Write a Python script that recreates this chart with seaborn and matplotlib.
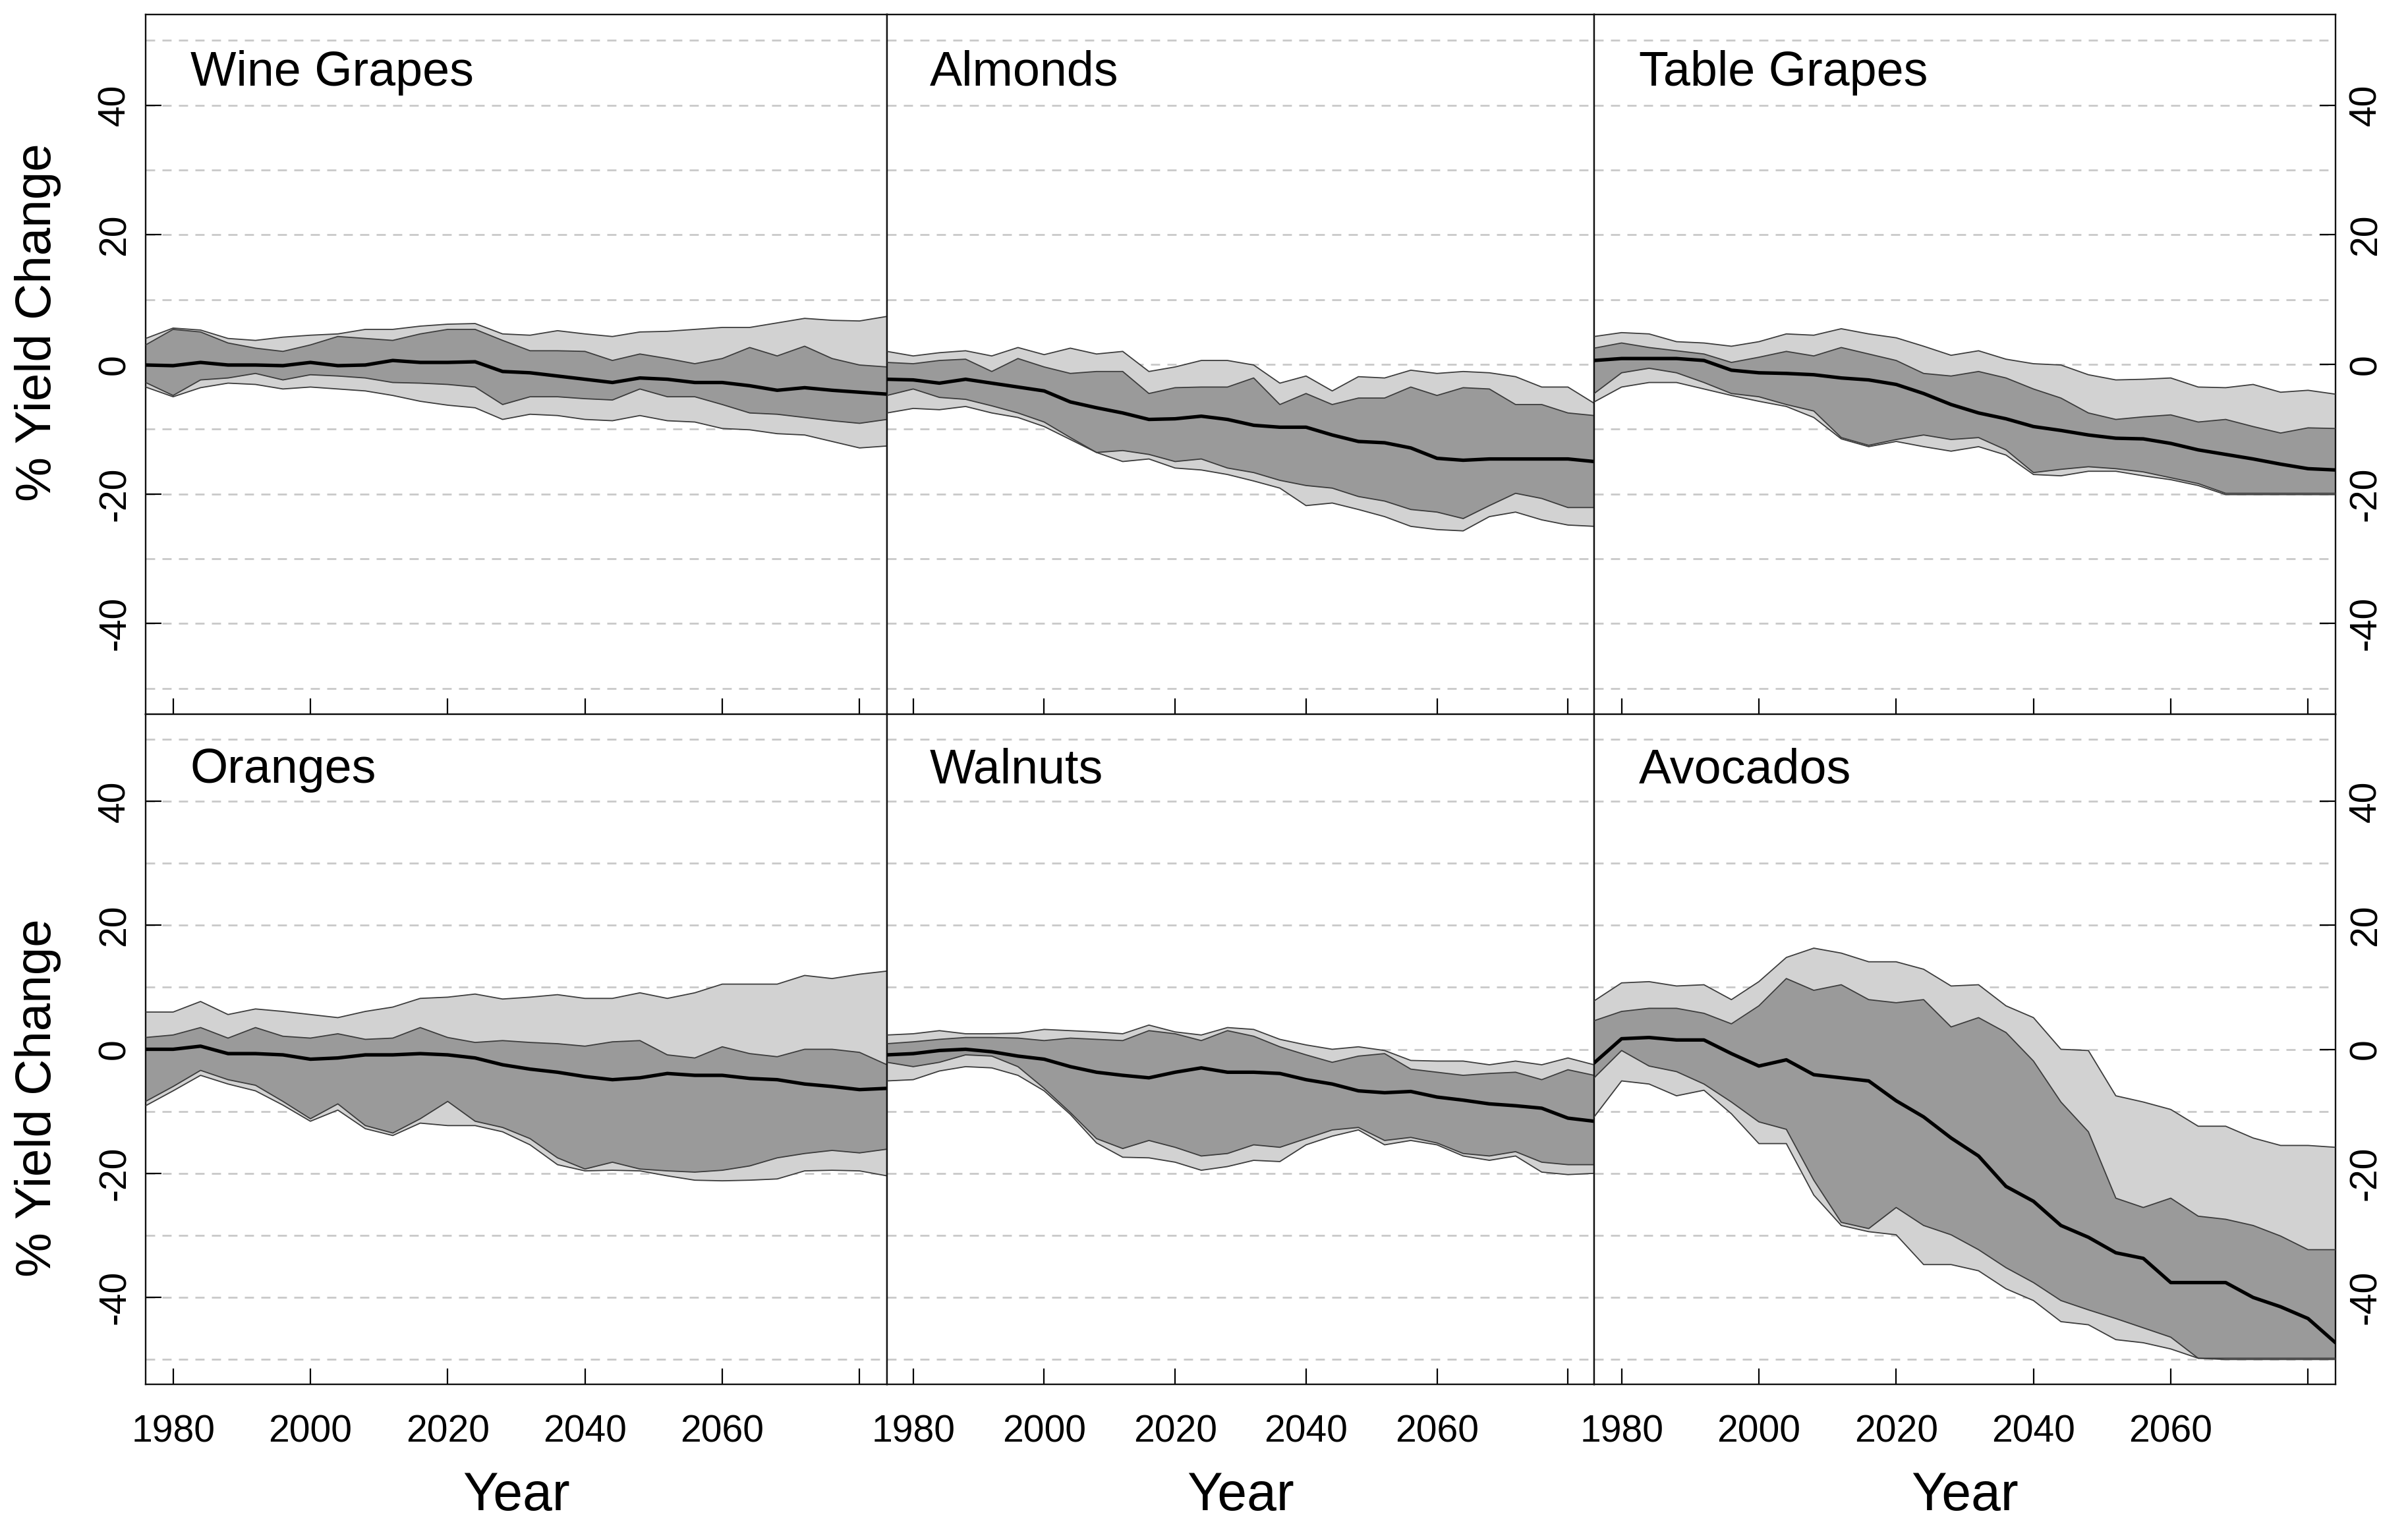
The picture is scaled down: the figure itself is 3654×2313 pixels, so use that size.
import pandas as pd
import seaborn as sns
import matplotlib.pyplot as plt

# Yield change projections: median, inner and outer ranges per crop
years = list(range(1976, 2085, 4))

wine_out_hi = [4.0, 5.6, 5.3, 4.0, 3.7, 4.2, 4.5, 4.7, 5.4, 5.4, 5.9, 6.2, 6.3, 4.7, 4.5, 5.2, 4.7, 4.3, 5.0, 5.1, 5.4, 5.7, 5.7, 6.4, 7.1, 6.8, 6.7, 7.4]
wine_in_hi = [3.0, 5.4, 5.0, 3.3, 2.5, 2.0, 3.0, 4.3, 4.0, 3.7, 4.7, 5.4, 5.4, 3.7, 2.1, 2.1, 2.0, 0.6, 1.6, 0.9, 0.1, 0.9, 2.6, 1.3, 2.8, 0.9, -0.1, -0.4]
wine_med = [-0.1, -0.2, 0.3, -0.1, -0.1, -0.2, 0.3, -0.2, -0.1, 0.6, 0.3, 0.3, 0.4, -1.1, -1.3, -1.8, -2.3, -2.8, -2.1, -2.3, -2.8, -2.8, -3.3, -4.0, -3.6, -4.0, -4.3, -4.6]
wine_in_lo = [-2.8, -4.8, -2.4, -2.1, -1.4, -2.4, -1.6, -1.8, -2.1, -2.8, -2.9, -3.1, -3.5, -6.2, -5.0, -5.0, -5.3, -5.5, -3.8, -5.0, -5.0, -6.2, -7.5, -7.7, -8.2, -8.7, -9.1, -8.5]
wine_out_lo = [-3.5, -5.0, -3.6, -2.9, -3.1, -3.8, -3.5, -3.8, -4.1, -4.8, -5.7, -6.3, -6.7, -8.5, -7.7, -7.9, -8.5, -8.7, -7.9, -8.7, -8.9, -9.9, -10.1, -10.7, -10.9, -11.9, -12.9, -12.6]

almond_out_hi = [2.0, 1.3, 1.8, 2.1, 1.3, 2.6, 1.5, 2.5, 1.6, 2.0, -1.1, -0.4, 0.6, 0.6, -0.1, -2.9, -1.8, -4.1, -1.9, -2.1, -0.9, -1.4, -1.1, -1.3, -1.9, -3.5, -3.5, -6.0]
almond_in_hi = [0.3, 0.1, 0.6, 0.8, -1.1, 0.9, -0.4, -1.4, -1.1, -1.1, -4.5, -3.6, -3.5, -3.5, -2.1, -6.2, -4.5, -6.2, -5.2, -5.2, -3.5, -4.8, -3.6, -3.8, -6.2, -6.2, -7.5, -7.9]
almond_med = [-2.3, -2.4, -2.9, -2.3, -2.9, -3.5, -4.1, -5.8, -6.7, -7.5, -8.5, -8.4, -8.0, -8.5, -9.4, -9.7, -9.7, -10.9, -11.9, -12.1, -12.9, -14.5, -14.8, -14.6, -14.6, -14.6, -14.6, -15.0]
almond_in_lo = [-4.8, -3.8, -5.1, -5.4, -6.4, -7.5, -8.9, -11.3, -13.6, -13.3, -13.9, -15.0, -14.6, -16.0, -16.7, -17.9, -18.7, -19.1, -20.4, -21.1, -22.4, -22.8, -23.8, -21.8, -19.9, -20.7, -22.1, -22.1]
almond_out_lo = [-7.5, -6.8, -7.0, -6.5, -7.5, -8.2, -9.6, -11.6, -13.6, -15.0, -14.6, -16.0, -16.3, -17.0, -18.0, -19.1, -21.8, -21.4, -22.4, -23.5, -25.0, -25.5, -25.7, -23.5, -22.8, -24.0, -24.8, -25.0]

table_out_hi = [4.3, 4.9, 4.7, 3.5, 3.3, 2.8, 3.5, 4.7, 4.5, 5.5, 4.7, 4.1, 2.8, 1.4, 2.1, 0.8, 0.1, -0.1, -1.6, -2.4, -2.3, -2.1, -3.5, -3.6, -3.1, -4.3, -4.0, -4.6]
table_in_hi = [2.5, 3.3, 2.6, 2.1, 1.6, 0.3, 1.1, 2.0, 1.3, 2.6, 1.6, 0.6, -1.4, -1.8, -1.1, -2.1, -3.8, -5.2, -7.5, -8.5, -8.1, -7.8, -8.9, -8.5, -9.6, -10.6, -9.8, -9.9]
table_med = [0.6, 0.9, 0.9, 0.9, 0.6, -0.9, -1.3, -1.4, -1.6, -2.1, -2.4, -3.1, -4.5, -6.2, -7.5, -8.4, -9.6, -10.2, -10.9, -11.4, -11.5, -12.2, -13.2, -13.9, -14.6, -15.4, -16.1, -16.3]
table_in_lo = [-4.5, -1.3, -0.6, -1.3, -2.8, -4.5, -5.0, -6.2, -7.2, -11.3, -12.5, -11.6, -10.9, -11.6, -11.3, -13.2, -16.7, -16.2, -15.8, -16.1, -16.6, -17.5, -18.4, -19.9, -19.9, -19.9, -19.9, -19.9]
table_out_lo = [-5.8, -3.5, -2.8, -2.8, -3.8, -4.8, -5.7, -6.5, -8.2, -11.5, -12.7, -11.9, -12.7, -13.4, -12.7, -14.0, -17.0, -17.2, -16.5, -16.5, -17.2, -17.8, -18.7, -20.1, -20.1, -20.1, -20.1, -20.1]

orange_out_hi = [6.0, 6.0, 7.7, 5.6, 6.5, 6.1, 5.6, 5.1, 6.1, 6.8, 8.2, 8.4, 8.9, 8.1, 8.4, 8.8, 8.2, 8.2, 9.1, 8.2, 9.1, 10.5, 10.5, 10.5, 11.9, 11.4, 12.1, 12.6]
orange_in_hi = [1.9, 2.3, 3.5, 1.8, 3.5, 2.1, 1.8, 2.5, 1.6, 1.8, 3.5, 1.9, 1.1, 1.4, 1.1, 0.9, 0.5, 1.2, 1.4, -0.9, -1.4, 0.4, -0.7, -1.2, 0.0, 0.0, -0.5, -2.5]
orange_med = [0.0, 0.0, 0.5, -0.7, -0.7, -0.9, -1.6, -1.4, -0.9, -0.9, -0.7, -0.9, -1.4, -2.5, -3.2, -3.7, -4.4, -4.9, -4.6, -3.9, -4.2, -4.2, -4.7, -4.9, -5.6, -6.0, -6.5, -6.3]
orange_in_lo = [-8.4, -6.0, -3.4, -4.9, -5.8, -8.4, -11.2, -8.8, -12.3, -13.5, -11.2, -8.4, -11.6, -12.6, -14.4, -17.5, -19.3, -18.2, -19.3, -19.6, -19.8, -19.5, -18.8, -17.5, -16.8, -16.3, -16.7, -16.1]
orange_out_lo = [-9.1, -6.7, -4.2, -5.6, -6.7, -9.0, -11.6, -9.8, -12.8, -13.9, -11.9, -12.3, -12.3, -13.3, -15.4, -18.6, -19.6, -19.5, -19.6, -20.4, -21.1, -21.2, -21.1, -20.9, -19.6, -19.5, -19.6, -20.4]

walnut_out_hi = [2.3, 2.5, 3.0, 2.5, 2.5, 2.6, 3.2, 3.0, 2.8, 2.5, 3.9, 2.8, 2.3, 3.5, 3.2, 1.6, 0.7, 0.0, 0.4, -0.2, -1.8, -1.9, -1.9, -2.5, -1.9, -2.5, -1.4, -2.5]
walnut_in_hi = [0.9, 1.2, 1.6, 1.9, 1.9, 1.8, 1.4, 1.8, 1.6, 1.4, 3.0, 2.5, 1.4, 3.0, 2.1, 0.4, -0.9, -2.1, -1.1, -0.7, -3.2, -3.7, -4.2, -3.9, -3.7, -4.9, -3.3, -4.2]
walnut_med = [-0.9, -0.7, -0.2, 0.0, -0.4, -1.1, -1.6, -2.8, -3.7, -4.2, -4.6, -3.7, -3.0, -3.7, -3.7, -3.9, -4.9, -5.6, -6.7, -7.0, -6.8, -7.7, -8.2, -8.8, -9.1, -9.5, -11.1, -11.6]
walnut_in_lo = [-2.1, -2.8, -2.1, -0.9, -1.1, -2.8, -6.3, -10.2, -14.4, -16.0, -14.7, -15.8, -17.2, -16.8, -15.4, -15.8, -14.4, -13.0, -12.6, -14.7, -14.2, -15.1, -16.8, -17.2, -16.5, -18.2, -18.6, -18.6]
walnut_out_lo = [-5.1, -4.9, -3.5, -2.8, -3.0, -4.2, -6.7, -10.5, -15.1, -17.4, -17.5, -18.2, -19.5, -18.9, -17.9, -18.1, -15.4, -14.0, -13.0, -15.4, -14.7, -15.4, -17.2, -17.9, -17.2, -19.8, -20.2, -20.0]

avocado_out_hi = [7.8, 10.7, 10.9, 10.2, 10.4, 8.0, 10.9, 14.8, 16.3, 15.5, 14.1, 14.1, 12.9, 10.2, 10.4, 7.0, 5.1, 0.0, -0.2, -7.5, -8.5, -9.7, -12.4, -12.4, -14.3, -15.5, -15.5, -15.8]
avocado_in_hi = [4.6, 6.1, 6.6, 6.6, 5.8, 4.1, 7.0, 11.4, 9.5, 10.4, 8.0, 7.5, 8.0, 3.6, 5.1, 2.7, -1.9, -8.5, -13.3, -24.0, -25.5, -24.0, -26.9, -27.4, -28.4, -30.1, -32.3, -32.3]
avocado_med = [-2.2, 1.7, 1.9, 1.5, 1.5, -0.7, -2.7, -1.7, -4.1, -4.6, -5.1, -8.3, -10.9, -14.3, -17.2, -22.1, -24.5, -28.4, -30.3, -32.8, -33.7, -37.6, -37.6, -37.6, -40.0, -41.5, -43.4, -47.3]
avocado_in_lo = [-4.6, -0.2, -2.7, -3.6, -5.6, -8.5, -11.7, -12.9, -21.1, -27.9, -28.9, -25.5, -28.4, -29.9, -32.3, -35.2, -37.6, -40.5, -42.0, -43.4, -44.9, -46.4, -49.8, -49.8, -49.8, -49.8, -49.8, -49.8]
avocado_out_lo = [-10.9, -5.1, -5.6, -7.5, -6.6, -10.4, -15.2, -15.2, -23.5, -28.4, -29.4, -29.9, -34.7, -34.7, -35.7, -38.6, -40.5, -43.9, -44.4, -46.8, -47.3, -48.3, -49.8, -50.0, -50.0, -50.0, -50.0, -50.0]

crops = ["Wine Grapes", "Almonds", "Table Grapes", "Oranges", "Walnuts", "Avocados"]
series = {
    "Wine Grapes": (wine_out_lo, wine_in_lo, wine_med, wine_in_hi, wine_out_hi),
    "Almonds": (almond_out_lo, almond_in_lo, almond_med, almond_in_hi, almond_out_hi),
    "Table Grapes": (table_out_lo, table_in_lo, table_med, table_in_hi, table_out_hi),
    "Oranges": (orange_out_lo, orange_in_lo, orange_med, orange_in_hi, orange_out_hi),
    "Walnuts": (walnut_out_lo, walnut_in_lo, walnut_med, walnut_in_hi, walnut_out_hi),
    "Avocados": (avocado_out_lo, avocado_in_lo, avocado_med, avocado_in_hi, avocado_out_hi),
}
stats = ["out_lo", "in_lo", "med", "in_hi", "out_hi"]

rows = []
for crop in crops:
    for stat, vals in zip(stats, series[crop]):
        for yr, v in zip(years, vals):
            rows.append((crop, stat, yr, v))
df = pd.DataFrame(rows, columns=["crop", "stat", "year", "value"])

x_ticks = [1980, 2000, 2020, 2040, 2060, 2080]
x_labels = ["1980", "2000", "2020", "2040", "2060", ""]
y_ticks = [-40, -20, 0, 20, 40]
y_labels = ["-40", "-20", "0", "20", "40"]
grid_levels = [-50, -40, -30, -20, -10, 0, 10, 20, 30, 40, 50]

sns.set_theme(style="white")
plt.rcParams["font.family"] = ["Liberation Sans", "DejaVu Sans"]
plt.rcParams["text.color"] = "black"
plt.rcParams["xtick.color"] = "black"
plt.rcParams["ytick.color"] = "black"

W, H = 3654, 2313
fig = plt.figure(figsize=(W / 100, H / 100), dpi=100)

# panel geometry in pixels (left, width) and (top, bottom)
cols = [(221, 1125), (1346, 1073), (2419, 1125)]
rows_px = [(22, 1084), (1084, 2101)]

light = "#d2d2d2"
dark = "#9a9a9a"
edge = "#3c3c3c"
tick_fs = 41

for i, crop in enumerate(crops):
    r, c = divmod(i, 3)
    left, width = cols[c]
    top, bottom = rows_px[r]
    ax = fig.add_axes([left / W, 1 - bottom / H, width / W, (bottom - top) / H])
    sub = df[df["crop"] == crop]
    wide = sub.pivot(index="year", columns="stat", values="value")

    for g in grid_levels:
        ax.axhline(g, color="#c9c9c9", lw=2.0, dashes=(5, 4), zorder=0)

    ax.fill_between(wide.index, wide["out_lo"], wide["out_hi"], color=light, lw=0, zorder=1)
    ax.fill_between(wide.index, wide["in_lo"], wide["in_hi"], color=dark, lw=0, zorder=2)

    bounds = sub[sub["stat"] != "med"]
    sns.lineplot(data=bounds, x="year", y="value", units="stat", estimator=None,
                 color=edge, lw=1.3, ax=ax, zorder=3)
    sns.lineplot(data=sub[sub["stat"] == "med"], x="year", y="value",
                 color="black", lw=3.8, ax=ax, zorder=4)

    ax.set_xlim(1976, 2084)
    ax.set_ylim(-54, 54)
    ax.set_xlabel("")
    ax.set_ylabel("")
    ax.text(1982.5, 45, crop, fontsize=53, ha="left", va="center", zorder=5)

    for s in ax.spines.values():
        s.set_color("#111111")
        s.set_linewidth(1.7)

    ax.set_xticks(x_ticks)
    if r == 1:
        ax.set_xticklabels(x_labels)
    else:
        ax.set_xticklabels([])
    ax.tick_params(axis="x", direction="in", length=17, width=1.6,
                   labelsize=tick_fs, pad=33, bottom=True, top=False)

    if c == 0:
        ax.set_yticks(y_ticks)
        ax.set_yticklabels(y_labels, rotation=90, va="center")
        ax.tick_params(axis="y", direction="in", length=17, width=1.6,
                       labelsize=tick_fs, pad=14, left=True, right=False)
    elif c == 2:
        ax.set_yticks(y_ticks)
        ax.yaxis.tick_right()
        ax.set_yticklabels(y_labels, rotation=90, va="center")
        ax.tick_params(axis="y", direction="in", length=17, width=1.6,
                       labelsize=tick_fs, pad=14, left=False, right=True)
    else:
        ax.set_yticks([])

    if r == 1:
        fig.text((left + width / 2) / W, 1 - 2292 / H, "Year", fontsize=58,
                 ha="center", va="baseline")

fig.text(58 / W, 1 - 489 / H, "% Yield Change", fontsize=55, rotation=90,
         ha="center", va="center")
fig.text(58 / W, 1 - 1666 / H, "% Yield Change", fontsize=55, rotation=90,
         ha="center", va="center")

fig.savefig("out.png", dpi=100, facecolor="white")
plt.close(fig)
